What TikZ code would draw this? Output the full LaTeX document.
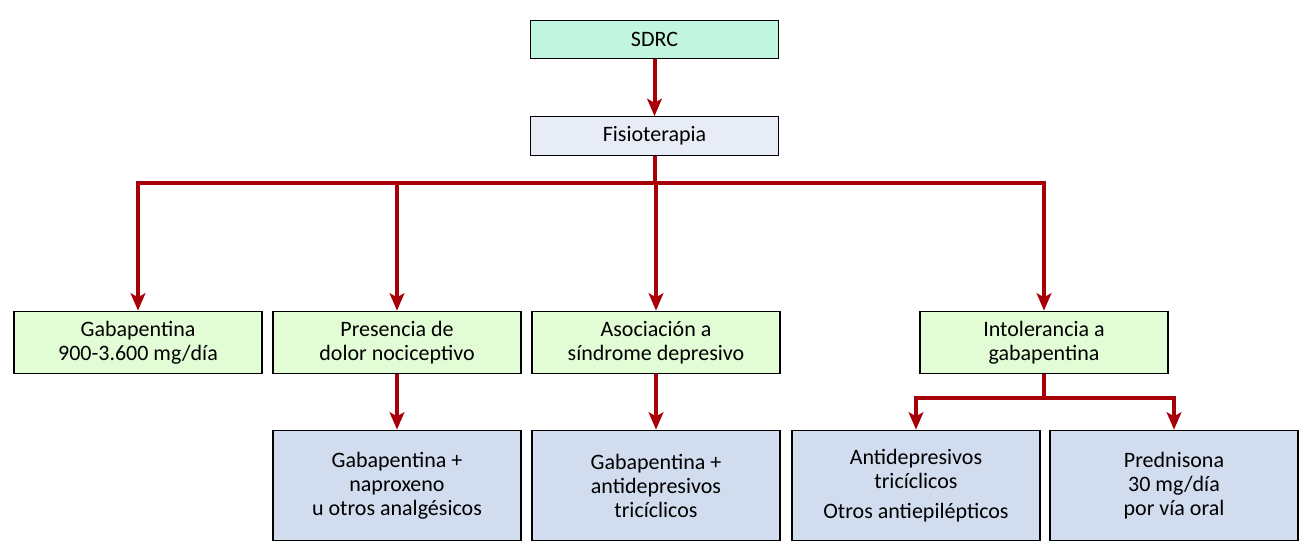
\documentclass[tikz,border=0pt]{standalone}
\usepackage{fontspec}
\setmainfont{Carlito}
\usetikzlibrary{arrows.meta}
\definecolor{darkred}{HTML}{A80008}
\definecolor{mintfill}{HTML}{C2F5DF}
\definecolor{lavfill}{HTML}{E8ECF7}
\definecolor{greenfill}{HTML}{E2FDD6}
\definecolor{bluefill}{HTML}{D1DCEE}
\begin{document}
\begin{tikzpicture}[x=0.75pt, y=-0.75pt, line width=0.8pt,
  box/.style={rectangle,draw=black,align=center,font=\fontsize{16.5}{18}\selectfont,inner sep=0pt,minimum width=186pt},
  top box/.style={box,minimum height=29pt},
  mid box/.style={box,fill=greenfill,minimum height=47pt},
  low box/.style={box,fill=bluefill,minimum height=83pt},
  arr/.style={draw=darkred,line width=3pt,-{Stealth[length=13pt,width=11pt,inset=3pt]}},
  link/.style={draw=darkred,line width=3pt}]
\useasboundingbox (0,0) rectangle (1312,552);
\begin{scope}
\node[top box,fill=mintfill] (sdrc) at (654.5,39.5) {SDRC};
\node[top box,fill=lavfill] (fisio) at (654.5,136) {Fisioterapia};
\node[mid box] (gaba) at (138,342.5) {Gabapentina\\900-3.600 mg/día};
\node[mid box] (noci) at (397,342.5) {Presencia de\\dolor nociceptivo};
\node[mid box] (depr) at (656,342.5) {Asociación a\\síndrome depresivo};
\node[mid box] (into) at (1044,342.5) {Intolerancia a\\gabapentina};
\node[low box] (naprox) at (397,485.5) {Gabapentina +\\naproxeno\\u otros analgésicos};
\node[low box] (antid) at (656,485.5) {Gabapentina +\\antidepresivos\\tricíclicos};
\node[low box] (tric) at (916,485.5) {Antidepresivos\\tricíclicos\\[4pt]Otros antiepilépticos};
\node[low box] (pred) at (1174,485.5) {Prednisona\\30 mg/día\\por vía oral};
\end{scope}
\coordinate (split) at (654.5,183);
\coordinate (split2) at (1044,398);
\begin{scope}
\draw[arr] (sdrc) -- (fisio);
\draw[link] (fisio) -- (split);
\draw[arr] (split) -| (gaba);
\draw[arr] (split) -| (noci);
\draw[arr] (split) -- (split -| depr.north) -- (depr);
\draw[arr] (split) -| (into);
\draw[arr] (noci) -- (naprox);
\draw[arr] (depr) -- (antid);
\draw[link] (into) -- (split2);
\draw[arr] (split2) -| (tric);
\draw[arr] (split2) -| (pred);
\end{scope}
\end{tikzpicture}
\end{document}
